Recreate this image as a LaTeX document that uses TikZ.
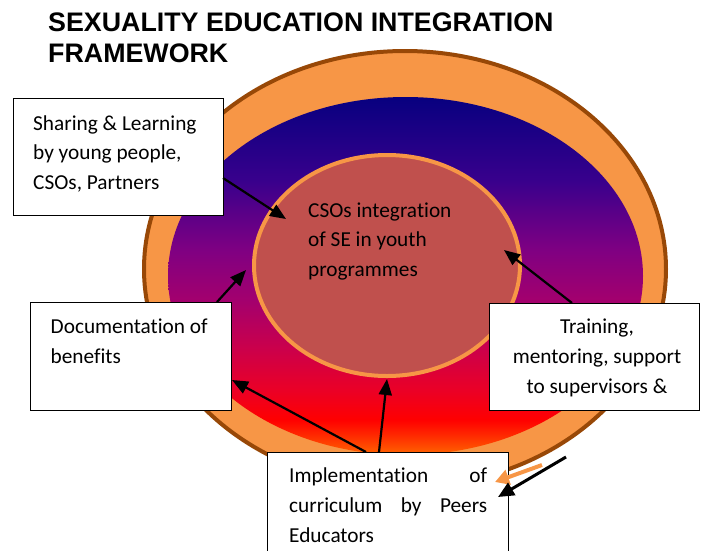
\documentclass[tikz,border=0pt]{standalone}
\usepackage{fontspec}
\setmainfont{Carlito}[Ligatures=NoCommon]
\newfontfamily\headfont{Liberation Sans}
\usetikzlibrary{arrows.meta,shapes.geometric}

\definecolor{ringorange}{HTML}{F79646}
\definecolor{ringbrown}{HTML}{984807}
\definecolor{corered}{HTML}{C0504D}

% navy at the top, through purple and magenta, to red and orange at the bottom
\pgfdeclareverticalshading{sunset}{100bp}{%
  rgb(0bp)=(1,0.4,0); rgb(25bp)=(1,0.4,0); rgb(27.8bp)=(1,0.16,0);
  rgb(29.9bp)=(1,0,0); rgb(34.1bp)=(0.92,0,0.15); rgb(39.7bp)=(0.8,0,0.29);
  rgb(46.6bp)=(0.64,0,0.43); rgb(53.6bp)=(0.5,0,0.51); rgb(63.4bp)=(0.22,0,0.55);
  rgb(75bp)=(0.03,0,0.5); rgb(100bp)=(0.03,0,0.5)}

\tikzset{
  box/.style={draw=black, fill=white, line width=1.2pt, inner sep=0pt, anchor=north west},
  txt/.style={inner sep=0pt, font=\fontsize{21.3}{30}\selectfont},
  headline/.style={inner sep=0pt, anchor=base west, font=\headfont\bfseries\fontsize{26.8}{31}\selectfont},
  link/.style={draw=black, line width=2.2pt, -{Triangle[length=16pt,width=13pt]}},
}

\begin{document}
\begin{tikzpicture}[x=1pt,y=-1pt]
\useasboundingbox (0,0) rectangle (705,550);
\clip (0,0) rectangle (705,550);

% title
\node[headline] (head1) at (48,31.5) {SEXUALITY EDUCATION INTEGRATION};
\node[headline] (head2) at (48,62.5) {FRAMEWORK};

% rings
\draw[ringbrown, fill=ringorange, line width=4pt] (405,269) ellipse [x radius=261pt, y radius=218pt];
\path[shading=sunset] (405.5,276) ellipse [x radius=237.5pt, y radius=179pt];
\node[ellipse, draw=ringorange, fill=corered, line width=4pt, inner sep=0pt,
      minimum width=266pt, minimum height=221pt] (core) at (387,265.5) {};
\node[txt, anchor=base west] (coreA) at (308,217) {CSOs integration};
\node[txt, anchor=base west] (coreB) at (308,246.5) {of SE in youth};
\node[txt, anchor=base west] (coreC) at (308,276) {programmes};

% boxes
\node[box, minimum width=210pt, minimum height=117pt] (share) at (13,98) {};
\node[txt, anchor=base west] (shareA) at (33,130) {Sharing \& Learning};
\node[txt, anchor=base west] (shareB) at (33,159.5) {by young people,};
\node[txt, anchor=base west] (shareC) at (33,189) {CSOs, Partners};

\node[box, minimum width=201pt, minimum height=108pt] (doc) at (30,302) {};
\node[txt, anchor=base west] (docA) at (50.5,333) {Documentation of};
\node[txt, anchor=base west] (docB) at (50.5,363) {benefits};

\node[box, minimum width=210pt, minimum height=107pt] (train) at (489,303) {};
\node[txt, anchor=base] (trainA) at (597,333) {Training,};
\node[txt, anchor=base] (trainB) at (597,363) {mentoring, support};
\node[txt, anchor=base] (trainC) at (597,393) {to supervisors \&};

\node[box, minimum width=241pt, minimum height=120pt] (impl) at (267,452) {};
\node[txt, anchor=base west] (implA) at (289,482) {\makebox[198pt][s]{Implementation of}};
\node[txt, anchor=base west] (implB) at (289,512) {\makebox[198pt][s]{curriculum by Peers}};
\node[txt, anchor=base west] (implC) at (289,542) {Educators};

% arrow ends
\coordinate (shareOut) at (223,178);
\coordinate (coreNW) at (286,219);
\coordinate (docOut) at (217,302);
\coordinate (ringW) at (246,270);
\coordinate (trainOut) at (572,303);
\coordinate (coreE) at (504,250);
\coordinate (implOutL) at (366,452);
\coordinate (docIn) at (232,380);
\coordinate (implOutM) at (379,452);
\coordinate (coreS) at (387,379);
\coordinate (blackTail) at (566,457);
\coordinate (implInB) at (498,497);
\coordinate (orangeTail) at (542,465);
\coordinate (implInO) at (495,482);

\draw[link] (shareOut) -- (coreNW);
\draw[link] (docOut) -- (ringW);
\draw[link] (trainOut) -- (coreE);
\draw[link] (implOutL) -- (docIn);
\draw[link] (implOutM) -- (coreS);
\draw[draw=ringorange, line width=4pt, -{Triangle[length=14pt,width=15pt]}] (orangeTail) -- (implInO);
\draw[draw=black, line width=3pt, -{Triangle[length=16pt,width=14pt]}] (blackTail) -- (implInB);
\end{tikzpicture}
\end{document}
